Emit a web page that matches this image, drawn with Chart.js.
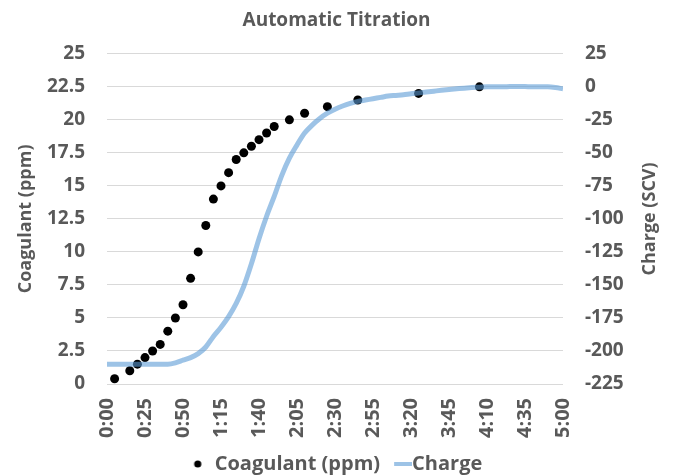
<!DOCTYPE html>
<html lang="en">
<head>
    <meta charset="UTF-8">
    <title>Automatic Titration</title>
    <script src="https://cdn.jsdelivr.net/npm/chart.js"></script>
    <style>
        body { margin: 0; background: #fff; }
        #wrap { width: 673px; height: 476px; }
    </style>
</head>
<body>
    <div id="wrap"><canvas id="myChart"></canvas></div>

    <script>
        // coagulant dose (seconds, ppm)
        const coagTimes = [5, 15, 20, 25, 30, 35, 40, 45, 50, 55, 60, 65, 70, 75, 80, 85, 90, 95, 100, 105, 110, 120, 130, 145, 165, 205, 245];
        const coagValues = [0.4, 1, 1.5, 2, 2.5, 3, 4, 5, 6, 8, 10, 12, 14, 15, 16, 17, 17.5, 18, 18.5, 19, 19.5, 20, 20.5, 21, 21.5, 22, 22.5];

        // streaming charge (seconds, SCV)
        const chargeTimes = [0, 5, 10, 15, 20, 25, 30, 35, 40, 45, 50, 55, 60, 65, 70, 75, 80, 85, 90, 95, 100,
            105, 110, 115, 120, 125, 130, 135, 140, 145, 150, 155, 160, 165, 170, 175, 180, 185, 190, 195, 200,
            205, 210, 215, 220, 225, 230, 235, 240, 245, 250, 255, 260, 265, 270, 275, 280, 285, 290, 295, 300];
        const chargeValues = [-210, -210, -210, -210, -210, -210, -210, -210, -210, -209, -207, -205, -202, -197, -189, -182, -174, -164, -151, -134, -115,
            -98, -83, -67, -54, -44, -35, -29, -24, -20, -17, -14.5, -12.5, -11, -10, -9, -8, -7, -6.5, -6, -5.2,
            -4.6, -4, -3.3, -2.6, -2, -1.5, -1, -0.6, -0.3, 0, 0, 0, 0.2, 0.3, 0.2, 0, 0, 0, -0.5, -1.5];

        const xMin = 0, xMax = 300, xStep = 25;
        const leftMin = 0, leftMax = 25, leftStep = 2.5;
        const rightMin = -225, rightMax = 25, rightStep = 25;

        const grey = '#595959';
        const chargeColor = 'rgba(91, 155, 213, 0.6)';

        Chart.defaults.font.family = "'Open Sans', sans-serif";
        Chart.defaults.font.weight = 'bold';
        Chart.defaults.color = grey;

        function fmtTime(s) {
            const m = Math.floor(s / 60);
            const sec = Math.round(s % 60);
            return m + ':' + (sec < 10 ? '0' : '') + sec;
        }

        // little images for the legend markers
        function legendDot() {
            const c = document.createElement('canvas');
            c.width = 10; c.height = 10;
            const g = c.getContext('2d');
            g.fillStyle = '#000';
            g.beginPath();
            g.arc(5, 5, 3.6, 0, Math.PI * 2);
            g.fill();
            return c;
        }
        function legendLine() {
            const c = document.createElement('canvas');
            c.width = 34; c.height = 6;
            const g = c.getContext('2d');
            g.fillStyle = chargeColor;
            g.fillRect(16, 1, 18, 4);
            return c;
        }
        const dotImg = legendDot();
        const lineImg = legendLine();

        // right axis title reads bottom-to-top like the left one
        const rightTitle = {
            id: 'rightTitle',
            afterDraw(chart) {
                const { ctx, chartArea } = chart;
                const sc = chart.scales.y1;
                ctx.save();
                ctx.translate(sc.right - 23, (chartArea.top + chartArea.bottom) / 2);
                ctx.rotate(-Math.PI / 2);
                ctx.font = "bold 18px 'Open Sans', sans-serif";
                ctx.fillStyle = grey;
                ctx.textAlign = 'center';
                ctx.textBaseline = 'middle';
                ctx.fillText('Charge (SCV)', 0, 0);
                ctx.restore();
            }
        };

        const ctx = document.getElementById('myChart').getContext('2d');
        window.myChart = new Chart(ctx, {
            data: {
                datasets: [{
                    type: 'scatter',
                    label: 'Coagulant (ppm)',
                    data: coagTimes.map((t, i) => ({ x: t, y: coagValues[i] })),
                    backgroundColor: '#000',
                    borderWidth: 0,
                    pointRadius: 4.5,
                    yAxisID: 'y',
                    order: 2
                }, {
                    type: 'line',
                    label: 'Charge',
                    data: chargeTimes.map((t, i) => ({ x: t, y: chargeValues[i] })),
                    borderColor: chargeColor,
                    backgroundColor: chargeColor,
                    borderWidth: 5,
                    pointRadius: 0,
                    cubicInterpolationMode: 'monotone',
                    fill: false,
                    yAxisID: 'y1',
                    order: 1
                }]
            },
            options: {
                responsive: true,
                maintainAspectRatio: false,
                animation: false,
                layout: { padding: { top: 0, left: 0, right: 0, bottom: -8 } },
                scales: {
                    x: {
                        type: 'linear',
                        min: xMin,
                        max: xMax,
                        grid: { display: false, drawTicks: false },
                        border: { display: false },
                        ticks: {
                            stepSize: xStep,
                            autoSkip: false,
                            minRotation: 90,
                            maxRotation: 90,
                            padding: 14,
                            font: { size: 20 },
                            callback: (v) => fmtTime(v)
                        },
                        afterFit: (s) => { s.height = 62; }
                    },
                    y: {
                        position: 'left',
                        min: leftMin,
                        max: leftMax,
                        grid: { color: '#d9d9d9', drawTicks: false },
                        border: { display: false },
                        ticks: { stepSize: leftStep, padding: 22, font: { size: 19 } },
                        title: {
                            display: true,
                            text: 'Coagulant (ppm)',
                            font: { size: 18 },
                            padding: { top: 15, bottom: 0 }
                        },
                        afterFit: (s) => { s.width = 107; }
                    },
                    y1: {
                        position: 'right',
                        min: rightMin,
                        max: rightMax,
                        grid: { display: false, drawTicks: false },
                        border: { display: false },
                        ticks: { stepSize: rightStep, padding: 22, font: { size: 19 } },
                        afterFit: (s) => { s.width = 110; }
                    }
                },
                plugins: {
                    title: {
                        display: true,
                        text: 'Automatic Titration',
                        font: { size: 19 },
                        padding: { top: 9, bottom: 22 }
                    },
                    legend: {
                        position: 'bottom',
                        labels: {
                            usePointStyle: true,
                            boxWidth: 14,
                            padding: 8,
                            color: grey,
                            font: { size: 20 },
                            sort: (a, b) => a.datasetIndex - b.datasetIndex,
                            generateLabels(chart) {
                                const items = Chart.defaults.plugins.legend.labels.generateLabels(chart);
                                items.forEach(it => { it.pointStyle = it.datasetIndex === 0 ? dotImg : lineImg; });
                                return items;
                            }
                        }
                    },
                    tooltip: { enabled: false }
                }
            },
            plugins: [rightTitle]
        });
    </script>
</body>
</html>
